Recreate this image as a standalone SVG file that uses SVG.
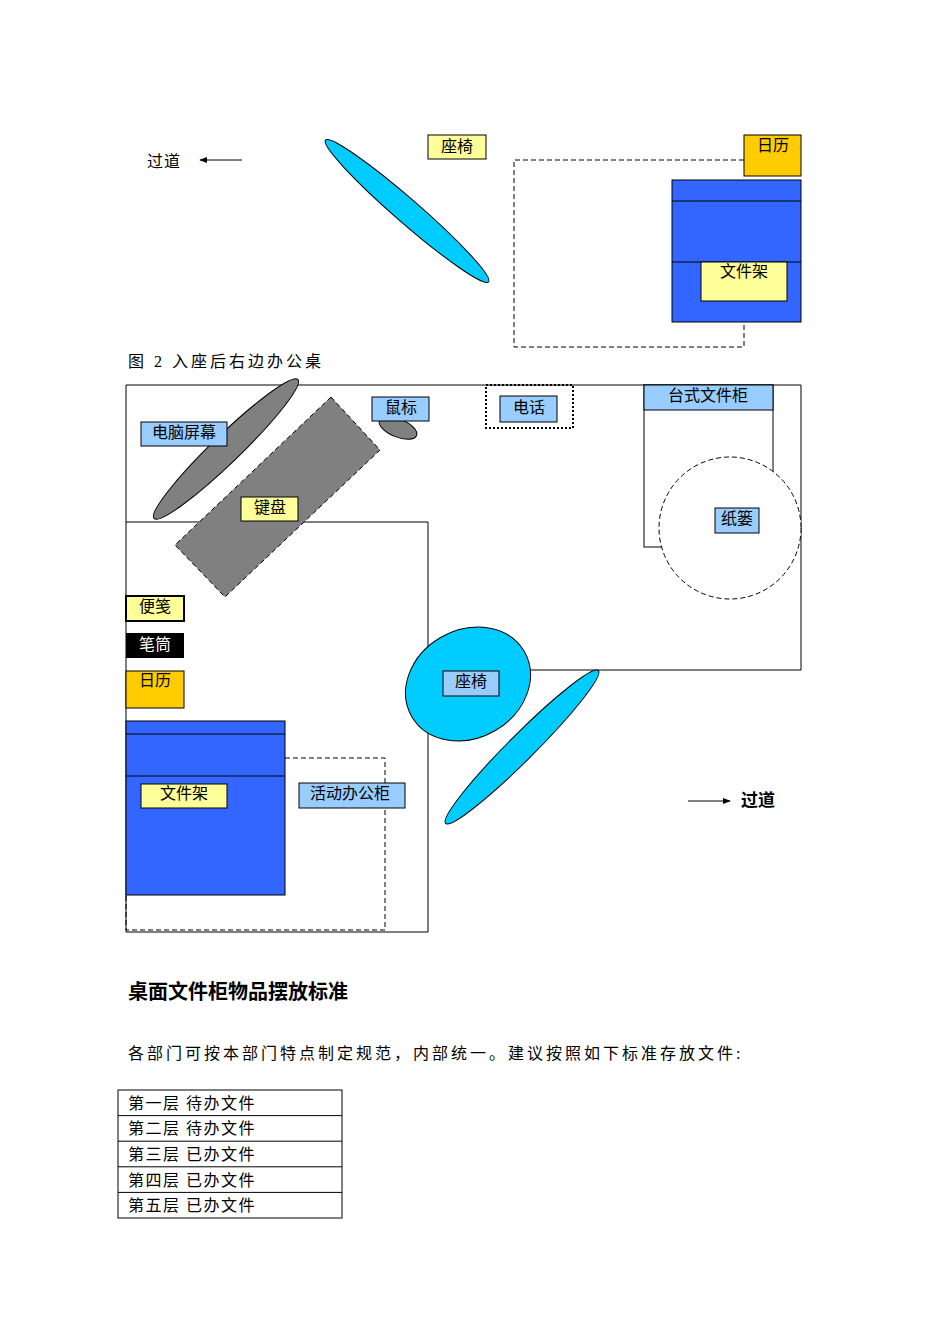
<svg xmlns="http://www.w3.org/2000/svg" width="950" height="1344" viewBox="0 0 950 1344">
<defs>
<style>
text{font-family:"Liberation Serif","Noto Sans CJK SC",serif;font-size:16px;fill:#000}
.lb{stroke:#000;stroke-width:1}
.y{fill:#FFFF99}.b{fill:#99CCFF}.g{fill:#FFCC00}.bl{fill:#3366FF}
.c{fill:#00CCFF;stroke:#000;stroke-width:1}
.ln{fill:none;stroke:#000;stroke-width:1}
.ds{fill:none;stroke:#000;stroke-width:1;stroke-dasharray:5,3}
</style>
<marker id="ah" viewBox="0 0 10 10" refX="9" refY="5" markerWidth="8" markerHeight="8" orient="auto"><path d="M0,1 L10,5 L0,9 Z" fill="#000"/></marker>
</defs>
<rect width="950" height="1344" fill="#fff"/>
<g id="connectors">
<line x1="242" y1="160" x2="200" y2="160" class="ln" marker-end="url(#ah)"/>
<line x1="688" y1="801" x2="730" y2="801" class="ln" marker-end="url(#ah)"/>
</g>
<text x="147" y="167" font-size="17" letter-spacing="1">过道</text>
<g id="chair-top"><ellipse cx="407" cy="211" rx="108" ry="12" transform="rotate(41 407 211)" class="c"/></g>
<g id="label-chair-top"><rect x="428" y="135" width="58" height="24" class="y lb"/><text x="441" y="152">座椅</text></g>
<g id="desk-top"><path d="M744,160 H514 V347 H744 V322" class="ds"/></g>
<g id="cal-top"><rect x="744" y="135" width="57" height="41" class="g lb"/><text x="757" y="151">日历</text></g>
<g id="rack-top"><rect x="672" y="180" width="129" height="142" class="bl lb"/><line x1="672" y1="201" x2="801" y2="201" class="ln"/><line x1="672" y1="262" x2="801" y2="262" class="ln"/>
<rect x="701" y="262" width="86" height="39" class="y lb"/><text x="720" y="277">文件架</text></g>
<text x="128" y="367" font-size="17" letter-spacing="3">图 2 入座后右边办公桌</text>
<g id="desk"><path d="M126,385 H801 V670 H428 V932 H126 Z" class="ln"/><line x1="126" y1="522" x2="428" y2="522" class="ln"/><line x1="428" y1="522" x2="428" y2="670" class="ln"/></g>
<g id="cabinet"><rect x="644" y="385" width="129" height="162" fill="#fff" class="lb"/><rect x="644" y="385" width="129" height="25" class="b lb"/><text x="668" y="401">台式文件柜</text></g>
<g id="basket"><circle cx="730" cy="528" r="71" class="ds" style="fill:#fff"/><rect x="715" y="508" width="44" height="25" class="b lb"/><text x="721" y="524">纸篓</text></g>
<g id="phone"><rect x="486" y="385" width="87" height="43" fill="none" stroke="#000" stroke-width="2" stroke-dasharray="2,2"/><rect x="500" y="396" width="57" height="26" class="b lb"/><text x="513" y="413">电话</text></g>
<g id="monitor"><ellipse cx="226" cy="449" rx="100" ry="14" transform="rotate(-44 226 449)" fill="#808080" class="lb"/><rect x="141" y="422" width="86" height="24" class="b lb"/><text x="152" y="438">电脑屏幕</text></g>
<g id="mouse"><ellipse cx="398" cy="428" rx="20" ry="9" transform="rotate(22 398 428)" fill="#808080" class="lb"/><rect x="372" y="397" width="57" height="24" class="b lb"/><text x="385" y="413">鼠标</text></g>
<g id="keyboard"><polygon points="331,397 380,450 225,597 175,545" class="ds" style="fill:#808080"/><rect x="241" y="497" width="57" height="24" class="y lb"/><text x="254" y="513">键盘</text></g>
<g id="note"><rect x="126" y="596" width="58" height="25" class="y" stroke="#000" stroke-width="2"/><text x="139" y="612">便笺</text></g>
<g id="pen"><rect x="126" y="633" width="58" height="25" fill="#000"/><text x="139" y="650" style="fill:#fff">笔筒</text></g>
<g id="cal"><rect x="126" y="671" width="58" height="37" class="g lb"/><text x="139" y="686">日历</text></g>
<g id="mobile"><path d="M285,758 H385 V930 H126 V895" class="ds"/></g>
<g id="rack"><rect x="126" y="721" width="159" height="174" class="bl lb"/><line x1="126" y1="734" x2="285" y2="734" class="ln"/><line x1="126" y1="776" x2="285" y2="776" class="ln"/>
<rect x="141" y="784" width="86" height="24" class="y lb"/><text x="160" y="799">文件架</text></g>
<g id="label-mobile"><rect x="299" y="783" width="106" height="25" class="b lb"/><text x="310" y="799">活动办公柜</text></g>
<g id="chair"><ellipse cx="522" cy="747" rx="108" ry="13" transform="rotate(-45 522 747)" class="c"/><ellipse cx="468" cy="684" rx="65" ry="54" transform="rotate(-30 468 684)" class="c"/>
<rect x="443" y="671" width="56" height="25" class="b lb"/><text x="455" y="687">座椅</text></g>
<text x="741" y="806" font-weight="bold" style="font-family:'Liberation Sans','Noto Sans CJK SC',sans-serif;font-size:17px">过道</text>
<text x="128" y="999" font-weight="bold" style="font-family:'Liberation Sans','Noto Sans CJK SC',sans-serif;font-size:20px">桌面文件柜物品摆放标准</text>
<text x="128" y="1059" font-size="17" letter-spacing="3">各部门可按本部门特点制定规范，内部统一。建议按照如下标准存放文件:</text>
<g id="table"><rect x="118" y="1090" width="224" height="128" class="ln"/>
<line x1="118" y1="1115.6" x2="342" y2="1115.6" class="ln"/><line x1="118" y1="1141.2" x2="342" y2="1141.2" class="ln"/><line x1="118" y1="1166.8" x2="342" y2="1166.8" class="ln"/><line x1="118" y1="1192.4" x2="342" y2="1192.4" class="ln"/>
<text x="128" y="1109" font-size="15" letter-spacing="1.5">第一层  待办文件</text>
<text x="128" y="1134" font-size="15" letter-spacing="1.5">第二层  待办文件</text>
<text x="128" y="1160" font-size="15" letter-spacing="1.5">第三层  已办文件</text>
<text x="128" y="1186" font-size="15" letter-spacing="1.5">第四层  已办文件</text>
<text x="128" y="1211" font-size="15" letter-spacing="1.5">第五层  已办文件</text></g>
</svg>
